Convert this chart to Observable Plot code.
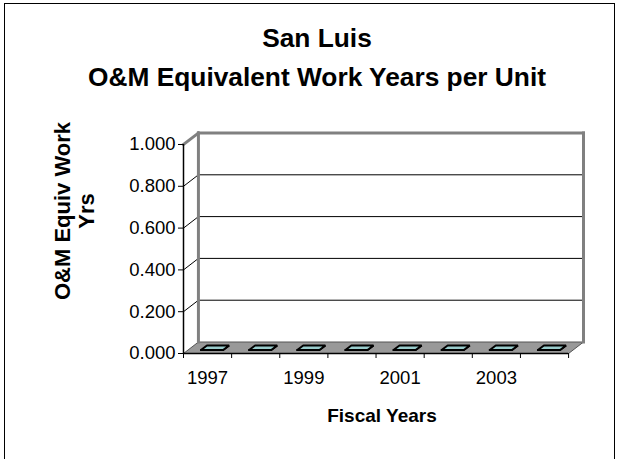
<!DOCTYPE html>
<html><head><meta charset="utf-8">
<script src="https://cdn.jsdelivr.net/npm/d3@7"></script>
<script src="https://cdn.jsdelivr.net/npm/@observablehq/plot@0.6"></script>
<style>
html,body{margin:0;padding:0;background:#fff;overflow:hidden;}
#wrap{position:relative;width:620px;height:459px;font-family:"Liberation Sans",Arial,sans-serif;overflow:hidden;}
#frame{position:absolute;left:4px;top:3px;width:611px;height:480px;border:1px solid #000;box-sizing:border-box;}
#chart{position:absolute;left:0;top:0;}
.t{position:absolute;font-weight:bold;color:#000;white-space:nowrap;transform:translate(-50%,-50%);text-align:center;}
</style></head><body>
<div id="wrap">
<div id="frame"></div>
<div id="chart"></div>
<div class="t" style="left:317px;top:38px;font-size:26.3px;">San Luis</div>
<div class="t" style="left:317px;top:77px;font-size:26.3px;">O&amp;M Equivalent Work Years per Unit</div>
<div class="t" style="left:75px;top:211px;font-size:22px;line-height:24px;transform:translate(-50%,-50%) rotate(-90deg);">O&amp;M Equiv Work<br>Yrs</div>
<div class="t" style="left:382px;top:416px;font-size:19px;">Fiscal Years</div>
</div>
<script>
// ---- data ----
const years = [1997, 1998, 1999, 2000, 2001, 2002, 2003, 2004];
const values = [0, 0, 0, 0, 0, 0, 0, 0];
const yTicks = [0, 0.2, 0.4, 0.6, 0.8, 1.0];
const xTickLabels = ["1997", "1999", "2001", "2003"];

// ---- pseudo-3D depth (in scale units) ----
const N = years.length;
const DX = 0.31, DY = 0.055;
const Z0 = 0.3, Z1 = 0.7, BW0 = 0.27, BW1 = 0.73;

// walls and floor
const floor = [[0,0],[N,0],[N+DX,DY],[DX,DY],[0,0]].map(([x,y]) => ({x, y}));
const sideWall = [[0,0],[0,1],[DX,1+DY],[DX,DY],[0,0]].map(([x,y]) => ({x, y}));
const backWall = [[DX,DY],[DX,1+DY],[N+DX,1+DY],[N+DX,DY],[DX,DY]].map(([x,y]) => ({x, y}));
const wallEdges = [
  {x1: 0, y1: 1, x2: DX, y2: 1 + DY},
  {x1: DX, y1: DY, x2: DX, y2: 1 + DY},
  {x1: DX, y1: 1 + DY, x2: N + DX, y2: 1 + DY},
  {x1: N + DX, y1: DY, x2: N + DX, y2: 1 + DY}
];
const gridVals = yTicks.filter(v => v > 0 && v < 1);

// bars as polygons: front face, side face, top face
const barPolys = [];
values.forEach((v, i) => {
  const x0 = i + BW0, x1 = i + BW1;
  const faces = [
    [[x0 + Z0*DX, Z0*DY], [x1 + Z0*DX, Z0*DY], [x1 + Z0*DX, v + Z0*DY], [x0 + Z0*DX, v + Z0*DY]],
    [[x1 + Z0*DX, Z0*DY], [x1 + Z1*DX, Z1*DY], [x1 + Z1*DX, v + Z1*DY], [x1 + Z0*DX, v + Z0*DY]],
    [[x0 + Z0*DX, v + Z0*DY], [x1 + Z0*DX, v + Z0*DY], [x1 + Z1*DX, v + Z1*DY], [x0 + Z1*DX, v + Z1*DY]]
  ];
  faces.forEach((f, k) => {
    [...f, f[0]].forEach(([x, y]) => barPolys.push({id: years[i] + "-" + k, x, y}));
  });
});

const chart = Plot.plot({
  width: 620,
  height: 459,
  marginLeft: 183,
  marginRight: 37,
  marginTop: 132.5,
  marginBottom: 106,
  style: {background: "transparent", fontFamily: "'Liberation Sans', Arial, sans-serif", color: "#000"},
  x: {domain: [0, N + DX], label: null, axis: null},
  y: {domain: [0, 1 + DY], label: null},
  marks: [
    Plot.line(sideWall, {x: "x", y: "y", fill: "#fff", stroke: "none"}),
    Plot.line(backWall, {x: "x", y: "y", fill: "#fff", stroke: "none"}),
    Plot.line(floor, {x: "x", y: "y", fill: "#999999", stroke: "#555", strokeWidth: 1}),
    Plot.link(gridVals, {x1: DX, y1: d => d + DY, x2: N + DX, y2: d => d + DY, stroke: "#000", strokeWidth: 1}),
    Plot.link(gridVals, {x1: 0, y1: d => d, x2: DX, y2: d => d + DY, stroke: "#000", strokeWidth: 1}),
    Plot.link(wallEdges, {x1: "x1", y1: "y1", x2: "x2", y2: "y2", stroke: "#808080", strokeWidth: 3, strokeLinecap: "square"}),
    Plot.line(barPolys, {x: "x", y: "y", z: "id", fill: "#99cccc", stroke: "#000", strokeWidth: 2, strokeLinejoin: "miter"}),
    Plot.ruleY([0], {x1: 0, x2: N, stroke: "#000", strokeWidth: 1.5}),
    Plot.ruleX([0], {y1: 0, y2: 1, stroke: "#000", strokeWidth: 1.5}),
    Plot.ruleX(d3.range(N + 1), {x: d => d, y1: 0, y2: 0, insetBottom: -5, stroke: "#000"}),
    Plot.axisY({ticks: yTicks, tickFormat: d3.format(".3f"), tickSize: 5, tickPadding: 3, fontSize: 18.5, label: null}),
    Plot.text(xTickLabels, {x: d => years.indexOf(+d) + 0.5, y: 0, dy: 25, fontSize: 18.5, textAnchor: "middle", lineAnchor: "middle", fill: "#000"})
  ]
});
document.getElementById("chart").appendChild(chart);
</script>
</body></html>
